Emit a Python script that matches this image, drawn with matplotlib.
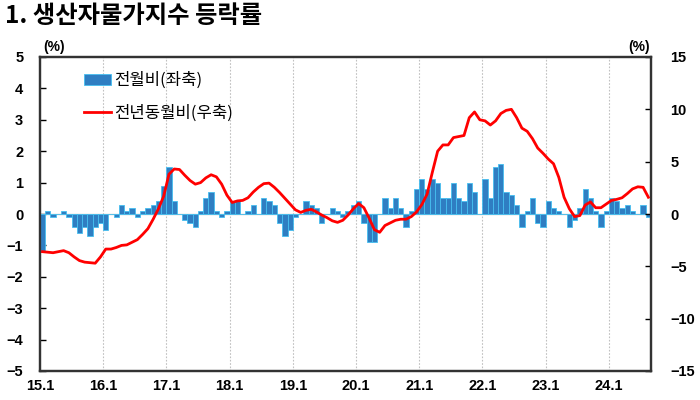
import matplotlib
matplotlib.use("Agg")
import matplotlib.pyplot as plt
import numpy as np
from matplotlib.patches import Patch
from matplotlib.lines import Line2D

plt.rcParams['font.family'] = ['Noto Sans CJK KR', 'DejaVu Sans']

# 2015.1 ~ 2024.8, monthly
year_labels = ['15.1', '16.1', '17.1', '18.1', '19.1', '20.1', '21.1', '22.1', '23.1', '24.1']

# 전월비 (%), left axis
mom = [
    -1.2, 0.1, -0.1, 0.0, 0.1, -0.1, -0.4, -0.6, -0.4, -0.7, -0.4, -0.3,
    -0.5, 0.0, -0.1, 0.3, 0.1, 0.2, -0.1, 0.1, 0.2, 0.3, 0.4, 0.9,
    1.5, 0.4, 0.0, -0.2, -0.3, -0.4, 0.1, 0.5, 0.7, 0.1, -0.1, 0.1,
    0.4, 0.4, 0.0, 0.1, 0.3, 0.0, 0.5, 0.4, 0.3, -0.3, -0.7, -0.5,
    -0.1, 0.0, 0.4, 0.3, 0.2, -0.3, 0.0, 0.2, 0.1, -0.1, 0.1, 0.3,
    0.4, -0.3, -0.9, -0.9, 0.0, 0.5, 0.2, 0.5, 0.2, -0.4, 0.1, 0.8,
    1.1, 0.8, 1.1, 1.0, 0.5, 0.5, 1.0, 0.5, 0.4, 1.0, 0.7, 0.0,
    1.1, 0.5, 1.5, 1.6, 0.7, 0.6, 0.3, -0.4, 0.1, 0.5, -0.3, -0.4,
    0.4, 0.2, 0.1, 0.0, -0.4, -0.2, 0.2, 0.8, 0.5, 0.1, -0.4, 0.1,
    0.5, 0.4, 0.2, 0.3, 0.1, 0.0, 0.3, -0.1,
]

# 전년동월비 (%), right axis
yoy = [
    -3.6, -3.65, -3.7, -3.6, -3.5, -3.7, -4.1, -4.45, -4.6, -4.65, -4.7, -4.1,
    -3.35, -3.35, -3.2, -3.0, -2.95, -2.7, -2.45, -1.95, -1.4, -0.5, 0.5, 1.7,
    3.8, 4.3, 4.25, 3.7, 3.2, 2.85, 3.0, 3.45, 3.75, 3.55, 2.85, 1.8,
    1.1, 1.25, 1.3, 1.55, 2.1, 2.55, 2.9, 2.95, 2.55, 2.05, 1.5, 0.95,
    0.4, 0.15, 0.35, 0.45, 0.2, -0.1, -0.35, -0.65, -0.8, -0.6, -0.1, 0.5,
    1.0, 0.6, -0.4, -1.5, -1.75, -1.1, -0.85, -0.6, -0.5, -0.5, -0.25, 0.2,
    0.9, 1.9, 4.0, 6.0, 6.6, 6.6, 7.3, 7.4, 7.5, 9.2, 9.75, 9.0,
    8.9, 8.5, 8.9, 9.6, 9.9, 10.0, 9.2, 8.2, 7.9, 7.2, 6.3, 5.8,
    5.25, 4.8, 3.5, 1.6, 0.5, -0.25, -0.15, 0.85, 1.15, 0.6, 0.6, 0.95,
    1.3, 1.4, 1.55, 1.95, 2.4, 2.6, 2.55, 1.6,
]

x = np.arange(len(mom))
year_pos = np.arange(len(year_labels)) * 12 - 0.5

fig = plt.figure(figsize=(7, 4), dpi=100)
ax = fig.add_axes([0.057, 0.0725, 0.873, 0.785])
ax2 = ax.twinx()

ax.bar(x, mom, width=1.0, color='#2f7ec2', edgecolor='#45bff0', linewidth=0.6, zorder=3)
ax2.plot(x, yoy, color='#ff0000', linewidth=2.0, zorder=4)

ax.axhline(0, color='#c8c8c8', linewidth=1.0, zorder=2)
for p in year_pos[1:]:
    ax.axvline(p, color='#c0c0c0', linewidth=0.8, linestyle=(0, (1.5, 1.5)), zorder=1)

ax.set_xlim(-0.5, len(mom) - 0.5)
ax.set_ylim(-5, 5)
ax2.set_ylim(-15, 15)
ax.set_yticks(np.arange(-5, 6, 1))
ax2.set_yticks(np.arange(-15, 16, 5))
ax.set_xticks(year_pos)
ax.set_xticklabels(year_labels)

tick_font = dict(family='Liberation Sans', weight='bold', size=10.5)
for lab in ax.get_yticklabels() + ax2.get_yticklabels() + ax.get_xticklabels():
    lab.set_fontproperties(matplotlib.font_manager.FontProperties(**tick_font))

ax.tick_params(axis='x', length=0, pad=6)
ax.tick_params(axis='y', direction='in', length=4, width=1, pad=12)
ax2.tick_params(axis='y', direction='in', length=4, width=1, pad=14)

for a in (ax, ax2):
    for s in a.spines.values():
        s.set_color('#333333')
        s.set_linewidth(1.6)

fig.text(0.062, 0.872, '(%)', fontsize=10, fontweight='bold', family='Liberation Sans')
fig.text(0.898, 0.872, '(%)', fontsize=10, fontweight='bold', family='Liberation Sans')
fig.text(0.007, 0.943, '1. 생산자물가지수 등락률', fontsize=17.5, fontweight='bold',
         family=['Noto Sans CJK KR', 'DejaVu Sans'])

handles = [Patch(facecolor='#2f7ec2', edgecolor='#45bff0', linewidth=0.6),
           Line2D([0], [0], color='#ff0000', linewidth=2.0)]
ax.legend(handles, ['전월비(좌축)', '전년동월비(우축)'], loc='upper left',
          bbox_to_anchor=(0.048, 1.0), frameon=False, fontsize=12,
          labelspacing=0.9, handlelength=1.6, handletextpad=0.2)

fig.savefig('out.png', dpi=100)
